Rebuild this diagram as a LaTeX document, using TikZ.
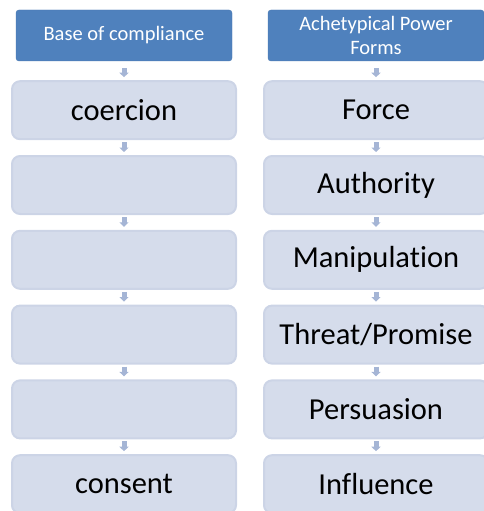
\documentclass[tikz,border=0pt]{standalone}
\usepackage{fontspec}
\setmainfont[Ligatures={NoCommon,NoContextual}]{Carlito}
\usetikzlibrary{positioning,arrows.meta}
\definecolor{hdrblue}{RGB}{79,129,189}
\definecolor{hdrline}{RGB}{72,120,178}
\definecolor{boxfill}{RGB}{213,220,235}
\definecolor{boxline}{RGB}{204,212,230}
\definecolor{flowblue}{RGB}{165,181,213}

\begin{document}
\begin{tikzpicture}[x=1pt,y=1pt,
hdr/.style={draw=hdrline, fill=hdrblue, text=white, rounded corners=3pt,
	minimum width=216pt, minimum height=51pt, inner sep=0pt, align=center,
	font=\fontsize{20.5}{24.5}\selectfont},
stepbox/.style={draw=boxline, line width=2pt, fill=boxfill, rounded corners=8pt,
	minimum width=224pt, minimum height=58pt, inner sep=0pt,
	font=\fontsize{30.5}{36}\selectfont},
flow/.style={draw=flowblue, line width=5pt, -{Triangle[width=9pt,length=4.5pt]},
	shorten <=2pt, shorten >=3pt},
node distance=14.8pt]
\useasboundingbox (0,0) rectangle (484,-511);

% left column
\node[hdr] (base) at (124,-35.5) {Base of compliance};
\node[stepbox, below=19pt of base] (coercion) {coercion};
\node[stepbox, below=of coercion] (mid1) {};
\node[stepbox, below=of mid1] (mid2) {};
\node[stepbox, below=of mid2] (mid3) {};
\node[stepbox, below=of mid3] (mid4) {};
\node[stepbox, below=of mid4] (consent) {consent};

% right column
\node[hdr] (forms) at (376,-35.5) {Achetypical Power\\Forms};
\node[stepbox, below=19pt of forms] (force) {Force};
\node[stepbox, below=of force] (authority) {Authority};
\node[stepbox, below=of authority] (manip) {Manipulation};
\node[stepbox, below=of manip] (threat) {Threat/Promise};
\node[stepbox, below=of threat] (persuasion) {Persuasion};
\node[stepbox, below=of persuasion] (influence) {Influence};

% arrows
\draw[flow, shorten <=7pt] (base) -- (coercion);
\draw[flow] (coercion) -- (mid1);
\draw[flow] (mid1) -- (mid2);
\draw[flow] (mid2) -- (mid3);
\draw[flow] (mid3) -- (mid4);
\draw[flow] (mid4) -- (consent);

\draw[flow, shorten <=7pt] (forms) -- (force);
\draw[flow] (force) -- (authority);
\draw[flow] (authority) -- (manip);
\draw[flow] (manip) -- (threat);
\draw[flow] (threat) -- (persuasion);
\draw[flow] (persuasion) -- (influence);
\end{tikzpicture}
\end{document}
